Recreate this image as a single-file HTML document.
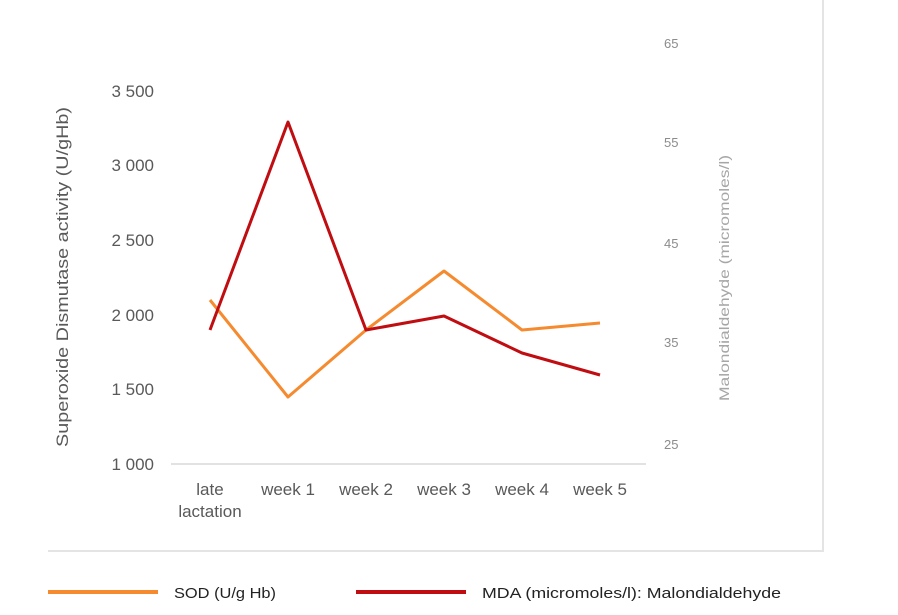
<!DOCTYPE html>
<html><head><meta charset="utf-8"><style>
body{margin:0;background:#fff;}
svg{display:block;font-family:"Liberation Sans",sans-serif;}
</style></head><body>
<svg width="898" height="615" viewBox="0 0 898 615">
<rect width="898" height="615" fill="#fff"/>
<line x1="823" y1="0" x2="823" y2="551" stroke="#e4e4e4" stroke-width="2"/>
<line x1="48" y1="551" x2="824" y2="551" stroke="#e4e4e4" stroke-width="2"/>
<line x1="171" y1="464" x2="646" y2="464" stroke="#d9d9d9" stroke-width="1.5"/>
<g fill="#595959" font-size="17" text-anchor="end">
<text x="154" y="97">3 500</text>
<text x="154" y="171">3 000</text>
<text x="154" y="246">2 500</text>
<text x="154" y="321">2 000</text>
<text x="154" y="395">1 500</text>
<text x="154" y="470">1 000</text>
</g>
<g fill="#8c8c8c" font-size="13">
<text x="664" y="48">65</text>
<text x="664" y="147">55</text>
<text x="664" y="248">45</text>
<text x="664" y="347">35</text>
<text x="664" y="449">25</text>
</g>
<text transform="translate(68,277) rotate(-90)" text-anchor="middle" fill="#595959" font-size="17" textLength="340" lengthAdjust="spacingAndGlyphs">Superoxide Dismutase activity (U/gHb)</text>
<text transform="translate(729,278) rotate(-90)" text-anchor="middle" fill="#a6a6a6" font-size="14" textLength="246" lengthAdjust="spacingAndGlyphs">Malondialdehyde (micromoles/l)</text>
<g fill="#595959" font-size="17" text-anchor="middle">
<text x="210" y="495">late</text>
<text x="210" y="517">lactation</text>
<text x="288" y="495">week 1</text>
<text x="366" y="495">week 2</text>
<text x="444" y="495">week 3</text>
<text x="522" y="495">week 4</text>
<text x="600" y="495">week 5</text>
</g>
<polyline points="210,300 288,397 366,330 444,271 522,330 600,323" fill="none" stroke="#f58a2f" stroke-width="3" stroke-linejoin="round"/>
<polyline points="210,330 288,122 366,330 444,316 522,353 600,375" fill="none" stroke="#c00d12" stroke-width="3" stroke-linejoin="round"/>
<line x1="48" y1="592" x2="158" y2="592" stroke="#f58a2f" stroke-width="4"/>
<line x1="356" y1="592" x2="466" y2="592" stroke="#c00d12" stroke-width="4"/>
<g fill="#222" font-size="15">
<text x="174" y="598" textLength="102" lengthAdjust="spacingAndGlyphs">SOD (U/g Hb)</text>
<text x="482" y="598" textLength="299" lengthAdjust="spacingAndGlyphs">MDA (micromoles/l): Malondialdehyde</text>
</g>
</svg>
</body></html>
